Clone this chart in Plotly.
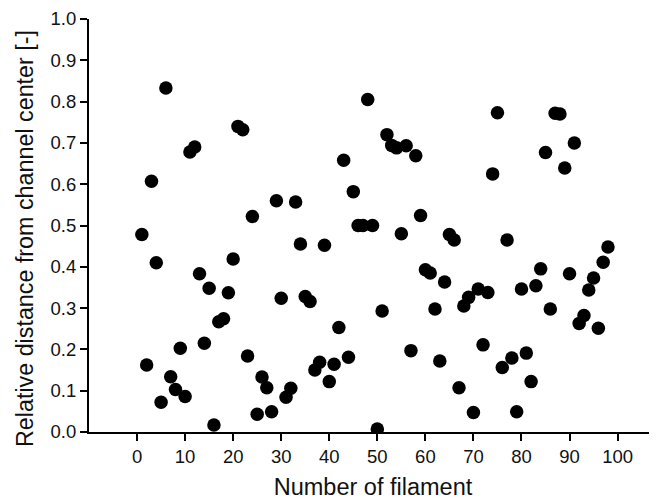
import plotly.graph_objects as go

filament = list(range(1, 99))
distance = [
    0.478, 0.162, 0.607, 0.410, 0.072, 0.833, 0.134, 0.103, 0.203, 0.086,
    0.678, 0.690, 0.383, 0.215, 0.348, 0.017, 0.267, 0.274, 0.337, 0.419,
    0.740, 0.732, 0.184, 0.522, 0.043, 0.133, 0.107, 0.049, 0.560, 0.324,
    0.084, 0.106, 0.557, 0.455, 0.328, 0.316, 0.150, 0.169, 0.452, 0.122,
    0.164, 0.253, 0.658, 0.181, 0.582, 0.500, 0.500, 0.805, 0.500, 0.007,
    0.293, 0.720, 0.694, 0.688, 0.480, 0.693, 0.197, 0.669, 0.524, 0.393,
    0.385, 0.298, 0.172, 0.363, 0.478, 0.465, 0.107, 0.305, 0.326, 0.047,
    0.346, 0.211, 0.338, 0.625, 0.773, 0.156, 0.465, 0.179, 0.049, 0.346,
    0.191, 0.122, 0.354, 0.395, 0.677, 0.298, 0.772, 0.770, 0.639, 0.383,
    0.700, 0.263, 0.282, 0.344, 0.373, 0.251, 0.411, 0.448,
]
x_ticks = list(range(0, 101, 10))
y_ticks = [round(i * 0.1, 1) for i in range(11)]
y_ticklabels = [f"{v:.1f}" for v in y_ticks]
x_title = "Number of filament"
y_title = "Relative distance from channel center [-]"

fig = go.Figure(
    go.Scatter(
        x=filament,
        y=distance,
        mode="markers",
        marker=dict(size=13.5, color="#000000", line=dict(width=0)),
        cliponaxis=True,
    )
)

font_family = "Liberation Sans, Arial, sans-serif"
# page body has an 8px margin, so the figure is sized to fit inside the window
fig.update_layout(
    width=649,
    height=492,
    margin=dict(l=81, r=0, t=11, b=68, autoexpand=False),
    paper_bgcolor="white",
    plot_bgcolor="white",
    showlegend=False,
    font=dict(family=font_family, size=18, color="#111111"),
)
fig.update_xaxes(
    range=[-10, 108.2],
    automargin=False,
    tickmode="array",
    tickvals=x_ticks,
    ticktext=[str(v) for v in x_ticks],
    ticks="outside",
    ticklen=7,
    tickwidth=2,
    tickcolor="#000000",
    showline=True,
    linecolor="#000000",
    linewidth=2,
    showgrid=False,
    zeroline=False,
    tickfont=dict(size=18.5),
    title=dict(text=x_title, font=dict(size=23.5), standoff=13),
)
fig.update_yaxes(
    range=[0, 1.0],
    automargin=False,
    tickmode="array",
    tickvals=y_ticks,
    ticktext=y_ticklabels,
    ticks="outside",
    ticklen=7,
    tickwidth=2,
    tickcolor="#000000",
    showline=True,
    linecolor="#000000",
    linewidth=2,
    showgrid=False,
    zeroline=False,
    tickfont=dict(size=18.5),
)
fig.add_annotation(
    text=y_title,
    xref="paper",
    yref="paper",
    x=0,
    y=0.5,
    xanchor="center",
    yanchor="middle",
    xshift=-64,
    yshift=-13.5,
    textangle=-90,
    showarrow=False,
    font=dict(size=23.3, family=font_family, color="#111111"),
)

fig.write_html("out.html")
